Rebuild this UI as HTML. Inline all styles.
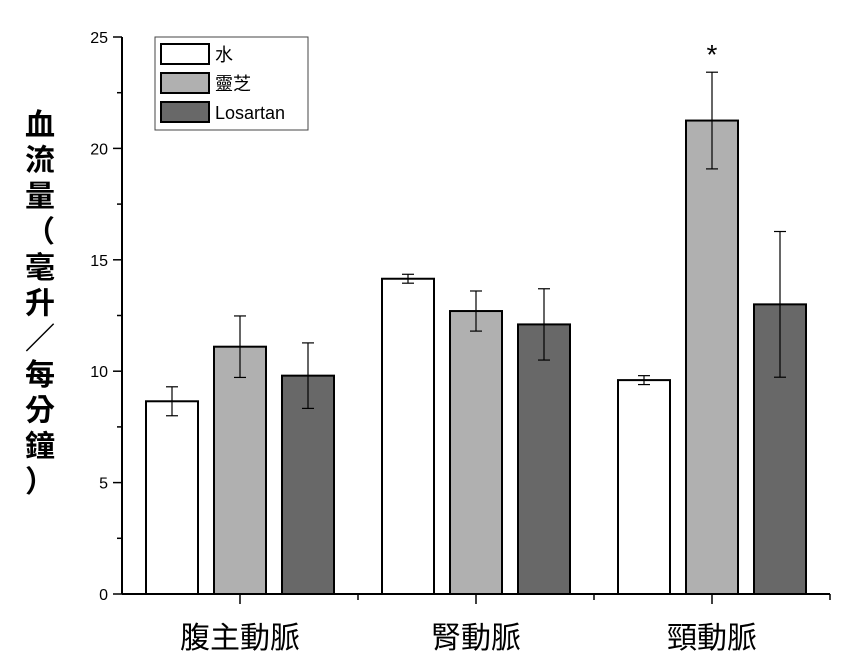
<!DOCTYPE html>
<html><head><meta charset="utf-8"><style>
body{margin:0;background:#fff;}
svg text{font-family:"Liberation Sans","Noto Sans CJK TC",sans-serif;fill:#000;}
</style></head><body>
<svg width="850" height="660">
<g id="plot"></g>
</svg>
<script>
const categories=["腹主動脈","腎動脈","頸動脈"];
const seriesNames=["水","靈芝","Losartan"];
const water=[8.65,14.15,9.6];
const lingzhi=[11.1,12.7,21.25];
const losartan=[9.8,12.1,13.0];
const waterErr=[0.65,0.2,0.2];
const lingzhiErr=[1.38,0.9,2.17];
const losartanErr=[1.47,1.6,3.27];
const yTicks=[0,5,10,15,20,25];
const colors=["#ffffff","#b0b0b0","#686868"];
const NS="http://www.w3.org/2000/svg";
const g=document.getElementById('plot');
const y0=594,yTop=37,ymax=25;
const Y=v=>y0-(v/ymax)*(y0-yTop);
const xL=122,xR=830;
const gw=(xR-xL)/3;
const X=i=>xL+gw*(i+0.5);
function mk(t,a,p){const e=document.createElementNS(NS,t);for(const k in a)e.setAttribute(k,a[k]);(p||g).appendChild(e);return e;}
// axes
let e=mk('line',{x1:xL,y1:yTop,x2:xL,y2:y0,stroke:'#000','stroke-width':2});


e=mk('line',{x1:xL,y1:y0,x2:xR,y2:y0,stroke:'#000','stroke-width':2});


for(let v=0;v<=25;v+=2.5){const maj=v%5===0;mk('line',{x1:xL-(maj?9:5),y1:Y(v),x2:xL,y2:Y(v),stroke:'#000','stroke-width':1.5});}
yTicks.forEach(v=>{const t=mk('text',{x:xL-14,y:Y(v)+6,'text-anchor':'end','font-size':16});t.textContent=v;

});
const series=[water,lingzhi,losartan],errs=[waterErr,lingzhiErr,losartanErr];
const offs=[-94,-26,42],bw=52;
categories.forEach((c,i)=>{
 mk('line',{x1:X(i),y1:y0,x2:X(i),y2:y0+10,stroke:'#000','stroke-width':1.5});
 mk('line',{x1:xL+gw*(i+1),y1:y0,x2:xL+gw*(i+1),y2:y0+6,stroke:'#000','stroke-width':1.5});
 const t=mk('text',{x:X(i),y:648,'text-anchor':'middle','font-size':30});t.textContent=c;
 
 
 series.forEach((s,j)=>{
  const x=X(i)+offs[j];
  const r=mk('rect',{x:x,y:Y(s[i]),width:bw,height:y0-Y(s[i]),fill:colors[j],stroke:'#000','stroke-width':2});
  
  
  const cx=x+bw/2,hi=Y(s[i]+errs[j][i]),lo=Y(s[i]-errs[j][i]);
  mk('line',{x1:cx,y1:hi,x2:cx,y2:lo,stroke:'#000','stroke-width':1.2});
  mk('line',{x1:cx-6,y1:hi,x2:cx+6,y2:hi,stroke:'#000','stroke-width':1.2});
  mk('line',{x1:cx-6,y1:lo,x2:cx+6,y2:lo,stroke:'#000','stroke-width':1.2});
 });
});
// significance star
let st=mk('text',{x:X(2)+offs[1]+bw/2,y:Y(lingzhi[2]+lingzhiErr[2])-8,'text-anchor':'middle','font-size':28});st.textContent='*';


// legend
const lg=mk('g',{});


mk('rect',{x:155,y:37,width:153,height:93,fill:'#fff',stroke:'#444','stroke-width':1},lg);
seriesNames.forEach((n,j)=>{
 const yy=44+j*29;
 mk('rect',{x:161,y:yy,width:48,height:20,fill:colors[j],stroke:'#000','stroke-width':2},lg);
 const t=mk('text',{x:215,y:yy+17,'font-size':18},lg);t.textContent=n;
 
 
});
// y axis title
const yt=mk('text',{x:0,y:0,'font-size':30,'font-weight':'bold',transform:'translate(40,135)'});


"血流量（毫升／每分鐘）".split('').forEach((ch,k)=>{const ts=mk('tspan',{x:0,dy:k?35.7:0,'text-anchor':'middle'},yt);ts.textContent=ch;});
</script>
</body></html>
